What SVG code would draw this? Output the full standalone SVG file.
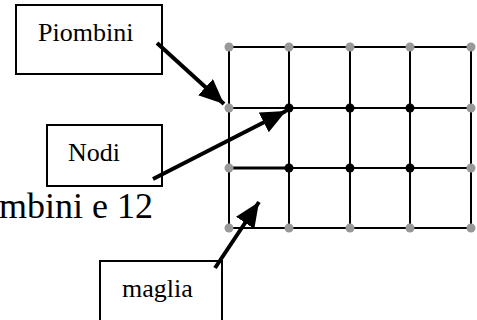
<svg xmlns="http://www.w3.org/2000/svg" width="477" height="320" viewBox="0 0 477 320">
<style>
.box{fill:#fff;stroke:#000;stroke-width:2}
.lbl{font-family:"Liberation Serif","Times New Roman",serif;font-size:26px;fill:#000}
.big{font-family:"Liberation Serif","Times New Roman",serif;font-size:36px;fill:#000}
.grid{stroke:#000;stroke-width:2;fill:none}
.gd{fill:#999}
.bd{fill:#000}
.arr{stroke:#000;stroke-width:4;fill:none;marker-end:url(#ah)}
</style>
<defs>
<marker id="ah" markerUnits="userSpaceOnUse" markerWidth="28" markerHeight="24" refX="25" refY="11" orient="auto">
<path d="M0,0 L25,11 L0,22 Z" fill="#000"/>
</marker>
</defs>
<rect width="477" height="320" fill="#fff"/>
<text class="big" x="153" y="218" text-anchor="end">mbini e 12</text>
<g id="grid">
<path class="grid" d="M229,47H471M229,108H471M289,168H471M229,228H471M229,47V228M289,47V228M350,47V228M410,47V228M471,47V228"/>
<path d="M229,168H289" stroke="#000" stroke-width="3"/>
<g id="nodes-perimeter">
<circle class="gd" cx="229" cy="47" r="4.5"/><circle class="gd" cx="289" cy="47" r="4.5"/><circle class="gd" cx="350" cy="47" r="4.5"/><circle class="gd" cx="410" cy="47" r="4.5"/><circle class="gd" cx="471" cy="47" r="4.5"/>
<circle class="gd" cx="229" cy="108" r="4.5"/><circle class="gd" cx="471" cy="108" r="4.5"/>
<circle class="gd" cx="229" cy="168" r="4.5"/><circle class="gd" cx="471" cy="168" r="4.5"/>
<circle class="gd" cx="229" cy="228" r="4.5"/><circle class="gd" cx="289" cy="228" r="4.5"/><circle class="gd" cx="350" cy="228" r="4.5"/><circle class="gd" cx="410" cy="228" r="4.5"/><circle class="gd" cx="471" cy="228" r="4.5"/>
</g>
<g id="nodes-inner">
<circle class="bd" cx="289" cy="108" r="4.5"/><circle class="bd" cx="350" cy="108" r="4.5"/><circle class="bd" cx="410" cy="108" r="4.5"/>
<circle class="bd" cx="289" cy="168" r="4.5"/><circle class="bd" cx="350" cy="168" r="4.5"/><circle class="bd" cx="410" cy="168" r="4.5"/>
</g>
</g>
<g id="box-piombini">
<rect class="box" x="16" y="5" width="146" height="69"/>
<text class="lbl" x="38" y="41">Piombini</text>
</g>
<g id="box-nodi">
<rect class="box" x="47" y="125" width="115" height="61"/>
<text class="lbl" x="68" y="161">Nodi</text>
</g>
<g id="box-maglia">
<rect class="box" x="100" y="261" width="122" height="64"/>
<text class="lbl" x="122" y="297">maglia</text>
</g>
<g id="connectors">
<path class="arr" d="M157,43L224,104"/>
<path class="arr" d="M153,179L286,111"/>
<path class="arr" d="M215,268L259,202"/>
</g>
</svg>
